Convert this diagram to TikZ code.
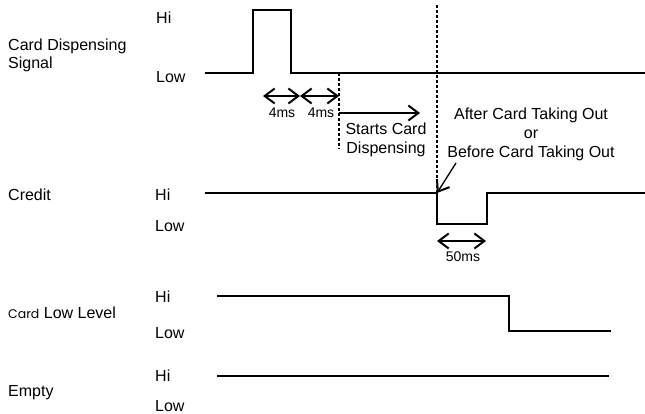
\documentclass[tikz,border=0pt]{standalone}
\usepackage{fontspec}
\setmainfont{Liberation Sans}
\newfontfamily\geofont{Poppins}
\usetikzlibrary{arrows.meta}
\tikzset{barb/.tip={Straight Barb[length=10pt, width=15pt, line width=2pt]}}
\begin{document}
\begin{tikzpicture}[x=1pt,y=-1pt,
  lbl/.style={font=\fontsize{16}{18}\selectfont, inner sep=0pt, anchor=west},
  small/.style={font=\fontsize{14}{15}\selectfont, inner sep=0pt},
  note/.style={font=\fontsize{16}{19}\selectfont, inner sep=0pt, align=center},
  wave/.style={line width=1.8pt, line join=miter},
  guide/.style={line width=1.2pt, dash pattern=on 3pt off 2pt},
  dim/.style={line width=1.3pt, {barb}-{barb}},
  onedim/.style={line width=1.3pt, -{barb}}]
\useasboundingbox (0,0) rectangle (645,414);

% ---- labels
\node[lbl] (cdA) at (8,46) {Card Dispensing};
\node[lbl] (cdB) at (8,64) {Signal};
\node[lbl] (cdHi) at (156,18) {Hi};
\node[lbl] (cdLo) at (156,77) {Low};

\node[lbl] (crL) at (8,195) {Credit};
\node[lbl] (crHi) at (155,195) {Hi};
\node[lbl] (crLo) at (155,226) {Low};

\node[lbl] (clL) at (8,313) {{\geofont\fontsize{12.5}{15}\selectfont Card} Low Level};
\node[lbl] (clHi) at (155,297) {Hi};
\node[lbl] (clLo) at (155,333) {Low};

\node[lbl] (emL) at (8,393) {Empty};
\node[lbl] (emHi) at (155,376) {Hi};
\node[lbl] (emLo) at (155,406) {Low};

% ---- card dispensing waveform
\coordinate (a0) at (205,73);
\coordinate (a1) at (253,73);
\coordinate (a2) at (253,10);
\coordinate (a3) at (291,10);
\coordinate (a4) at (291,73);
\coordinate (a5) at (645,73);
\draw[wave] (a0) -- (a1) -- (a2) -- (a3) -- (a4) -- (a5);

% ---- guides
\coordinate (g1t) at (339,73);
\coordinate (g1b) at (339,149);
\draw[guide] (g1t) -- (g1b);
\coordinate (g2t) at (437,5);
\coordinate (g2b) at (437,193);
\draw[guide] (g2t) -- (g2b);

% ---- 4ms dims
\coordinate (d1) at (263,96);
\coordinate (d2) at (300,96);
\coordinate (d3) at (339,96);
\draw[dim] (d1) -- (d2);
\draw[dim] (d2) -- (d3);
\node[small] (t4a) at (282,113) {4ms};
\node[small] (t4b) at (321,113) {4ms};

\coordinate (s0) at (339,113);
\coordinate (s1) at (420,113);
\draw[onedim] (s0) -- (s1);
\node[note] (start) at (386,140) {Starts Card\\Dispensing};

\node[note] (after) at (531,134) {After Card Taking Out\\or\\Before Card Taking Out};

% ---- credit waveform
\coordinate (c0) at (205,193);
\coordinate (c1) at (437,193);
\coordinate (c2) at (437,224);
\coordinate (c3) at (487,224);
\coordinate (c4) at (487,193);
\coordinate (c5) at (645,193);
\draw[wave] (c0) -- (c1) -- (c2) -- (c3) -- (c4) -- (c5);

\coordinate (p0) at (456,163);
\draw[onedim] (p0) -- (c1);

\coordinate (e1) at (437,241);
\coordinate (e2) at (486,241);
\draw[dim] (e1) -- (e2);
\node[small] (t50) at (463,257) {50ms};

% ---- card low level
\coordinate (l0) at (217,296);
\coordinate (l1) at (509,296);
\coordinate (l2) at (509,331);
\coordinate (l3) at (611,331);
\draw[wave] (l0) -- (l1) -- (l2) -- (l3);

% ---- empty
\coordinate (m0) at (217,376);
\coordinate (m1) at (609,376);
\draw[wave] (m0) -- (m1);
\end{tikzpicture}
\end{document}
